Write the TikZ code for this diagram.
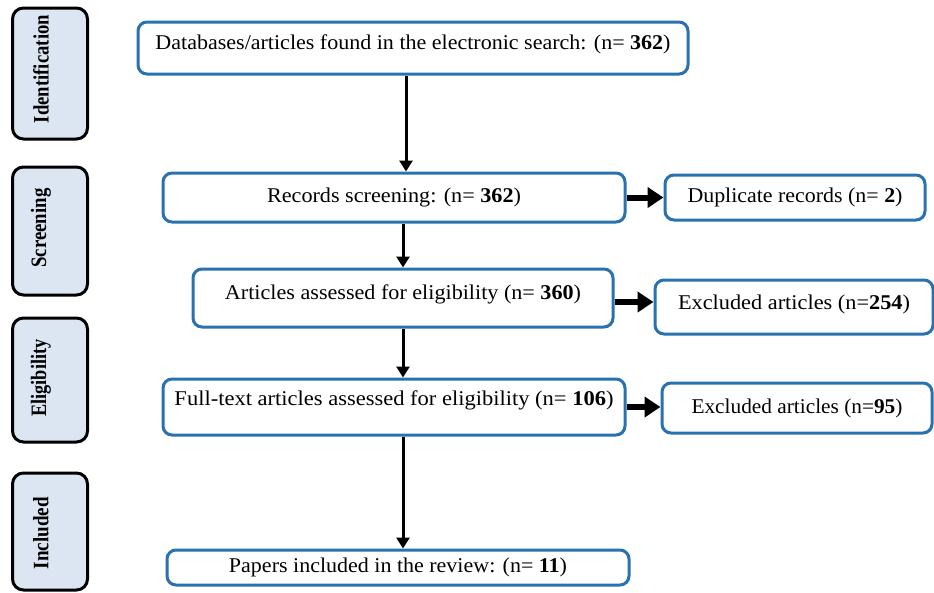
\documentclass[tikz,border=0pt]{standalone}
\usepackage{fontspec}
\setmainfont{Liberation Serif}
\usepackage{graphicx}
\usetikzlibrary{arrows.meta}
\definecolor{boxblue}{RGB}{40,114,178}
\definecolor{stagefill}{RGB}{220,230,242}
\newcommand{\fw}[2]{\resizebox{#1}{\height}{#2}}
\tikzset{
  x=1pt, y=-1pt,
  mainbox/.style={draw=boxblue, line width=3pt, rounded corners=9pt, fill=white,
    inner sep=0pt, font=\fontsize{21}{25}\selectfont},
  stagebox/.style={draw=black, line width=3pt, rounded corners=11pt, fill=stagefill,
    inner sep=0pt, minimum width=75pt},
  stagetext/.style={rotate=90, font=\bfseries\fontsize{22}{26}\selectfont, inner sep=0pt},
  downarrow/.style={line width=3pt, -{Triangle[width=13pt,length=11pt]}},
  sidearrow/.style={line width=6pt, -{Triangle[width=20pt,length=16pt]}}
}
\begin{document}
\begin{tikzpicture}
\useasboundingbox (0,0) rectangle (934,592);
\fill[white] (0,0) rectangle (934,592);
% stage boxes
\node[stagebox, minimum height=131pt] (sid) at (50,73.5) {};
\node[stagebox, minimum height=128pt] (ssc) at (50,231) {};
\node[stagebox, minimum height=124pt] (sel) at (50,380) {};
\node[stagebox, minimum height=117pt] (sin) at (50,531.5) {};
\node[stagetext] (tid) at (41,69) {\fw{108pt}{Identification}};
\node[stagetext] (tsc) at (41,228) {\fw{79pt}{Screening}};
\node[stagetext] (tel) at (41,378) {\fw{77pt}{Eligibility}};
\node[stagetext] (tin) at (41,533) {\fw{72pt}{Included}};
% main boxes
\node[mainbox, minimum width=550pt, minimum height=52pt, text depth=11pt] (b1) at (413,48)
  {\fw{515pt}{Databases/articles found in the electronic search: (n= \textbf{362})}};
\node[mainbox, minimum width=462pt, minimum height=49pt] (b2) at (394,197.5)
  {\fw{254pt}{Records screening: (n= \textbf{362})}};
\node[mainbox, minimum width=260pt, minimum height=45pt] (d1) at (795,197.5)
  {\fw{215pt}{Duplicate records (n= \textbf{2})}};
\node[mainbox, minimum width=420pt, minimum height=58pt, text depth=11pt] (b3) at (403,298)
  {\fw{356pt}{Articles assessed for eligibility (n= \textbf{360})}};
\node[mainbox, minimum width=278pt, minimum height=54pt, text depth=10pt] (e1) at (794,307)
  {\fw{232pt}{Excluded articles (n=\textbf{254})}};
\node[mainbox, minimum width=462pt, minimum height=56pt, text depth=17pt] (b4) at (394,407)
  {\fw{439pt}{Full-text articles assessed for eligibility (n= \textbf{106})}};
\node[mainbox, minimum width=270pt, minimum height=50pt] (e2) at (797,408)
  {\fw{211pt}{Excluded articles (n=\textbf{95})}};
\node[mainbox, minimum width=462pt, minimum height=35pt] (b5) at (398,567.5)
  {\fw{338pt}{Papers included in the review: (n= \textbf{11})}};
% arrows
\draw[downarrow] (b1.south -| 406,0) -- (b2.north -| 406,0);
\draw[downarrow] (b2.south -| 403,0) -- (b3.north -| 403,0);
\draw[downarrow] (b3.south -| 403,0) -- (b4.north -| 403,0);
\draw[downarrow] (b4.south -| 403,0) -- (b5.north -| 403,0);
\draw[sidearrow] (b2.east) -- (d1.west |- b2.east);
\draw[sidearrow] (b3.east |- 0,302) -- (e1.west |- 0,302);
\draw[sidearrow] (b4.east |- 0,407) -- (e2.west |- 0,407);
\end{tikzpicture}
\end{document}
